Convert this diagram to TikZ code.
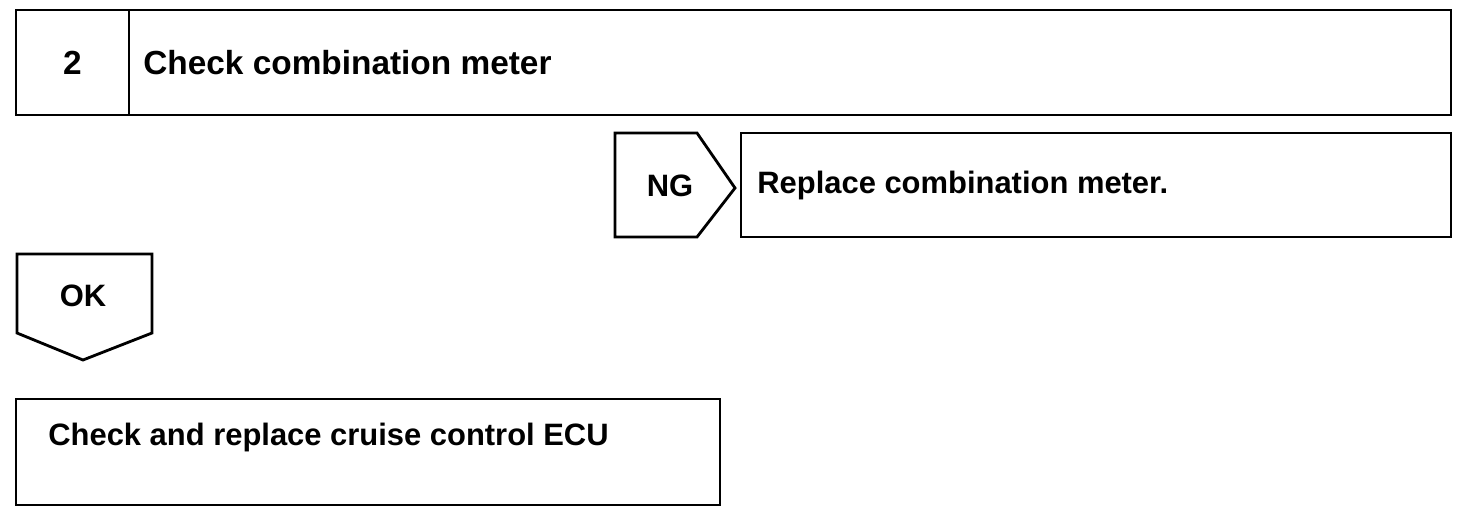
\documentclass[tikz,border=0pt]{standalone}
\usepackage{fontspec}
\setmainfont{Liberation Sans}
\usetikzlibrary{positioning,calc}

\begin{document}
\begin{tikzpicture}[
    box/.style={rectangle, draw, line width=1.6pt, inner sep=0pt, outer sep=0pt,
                minimum height=2.1cm},
    txt/.style={font=\fontsize{17.6}{20}\selectfont\bfseries, inner sep=0pt},
    head/.style={txt, font=\fontsize{19}{21}\selectfont\bfseries},
    tag/.style={line width=1.6pt, line join=miter},
]
    \useasboundingbox (0,0) rectangle (29.44,-10.36);
    % step header
    \node[box, minimum width=2.26cm] (num) at (1.45,-1.25) {};
    \node[head] at (num.center) {2};
    \node[box, minimum width=26.44cm, right=0pt of num] (title) {};
    \node[head, anchor=west] (titletxt) at ($(title.west)+(0.28,0)$) {Check combination meter};
    % NG branch
    \coordinate (ngnw) at (12.3,-2.66);
    \node[txt] (ng) at (13.4,-3.72) {NG};
    \draw[tag] (ngnw) -- ++(1.64,0) -- (14.7,-3.76) -- (13.94,-4.74)
        -- (12.3,-4.74) -- cycle;
    \node[box, minimum width=14.2cm, minimum height=2.08cm] (replace) at (21.92,-3.7) {};
    \node[txt, anchor=west] at ($(replace.west)+(0.32,0)$) {Replace combination meter.};
    % OK branch
    \node[txt] (ok) at (1.66,-5.92) {OK};
    \draw[tag] (0.34,-5.08) -- (3.04,-5.08) -- (3.04,-6.66) -- (1.66,-7.2)
        -- (0.34,-6.66) -- cycle;
    \node[box, minimum width=14.08cm, minimum height=2.12cm] (ecu) at (7.36,-9.04) {};
    \node[txt, anchor=west] at ($(ecu.west)+(0.64,0.3)$) {Check and replace cruise control ECU};
\end{tikzpicture}
\end{document}
